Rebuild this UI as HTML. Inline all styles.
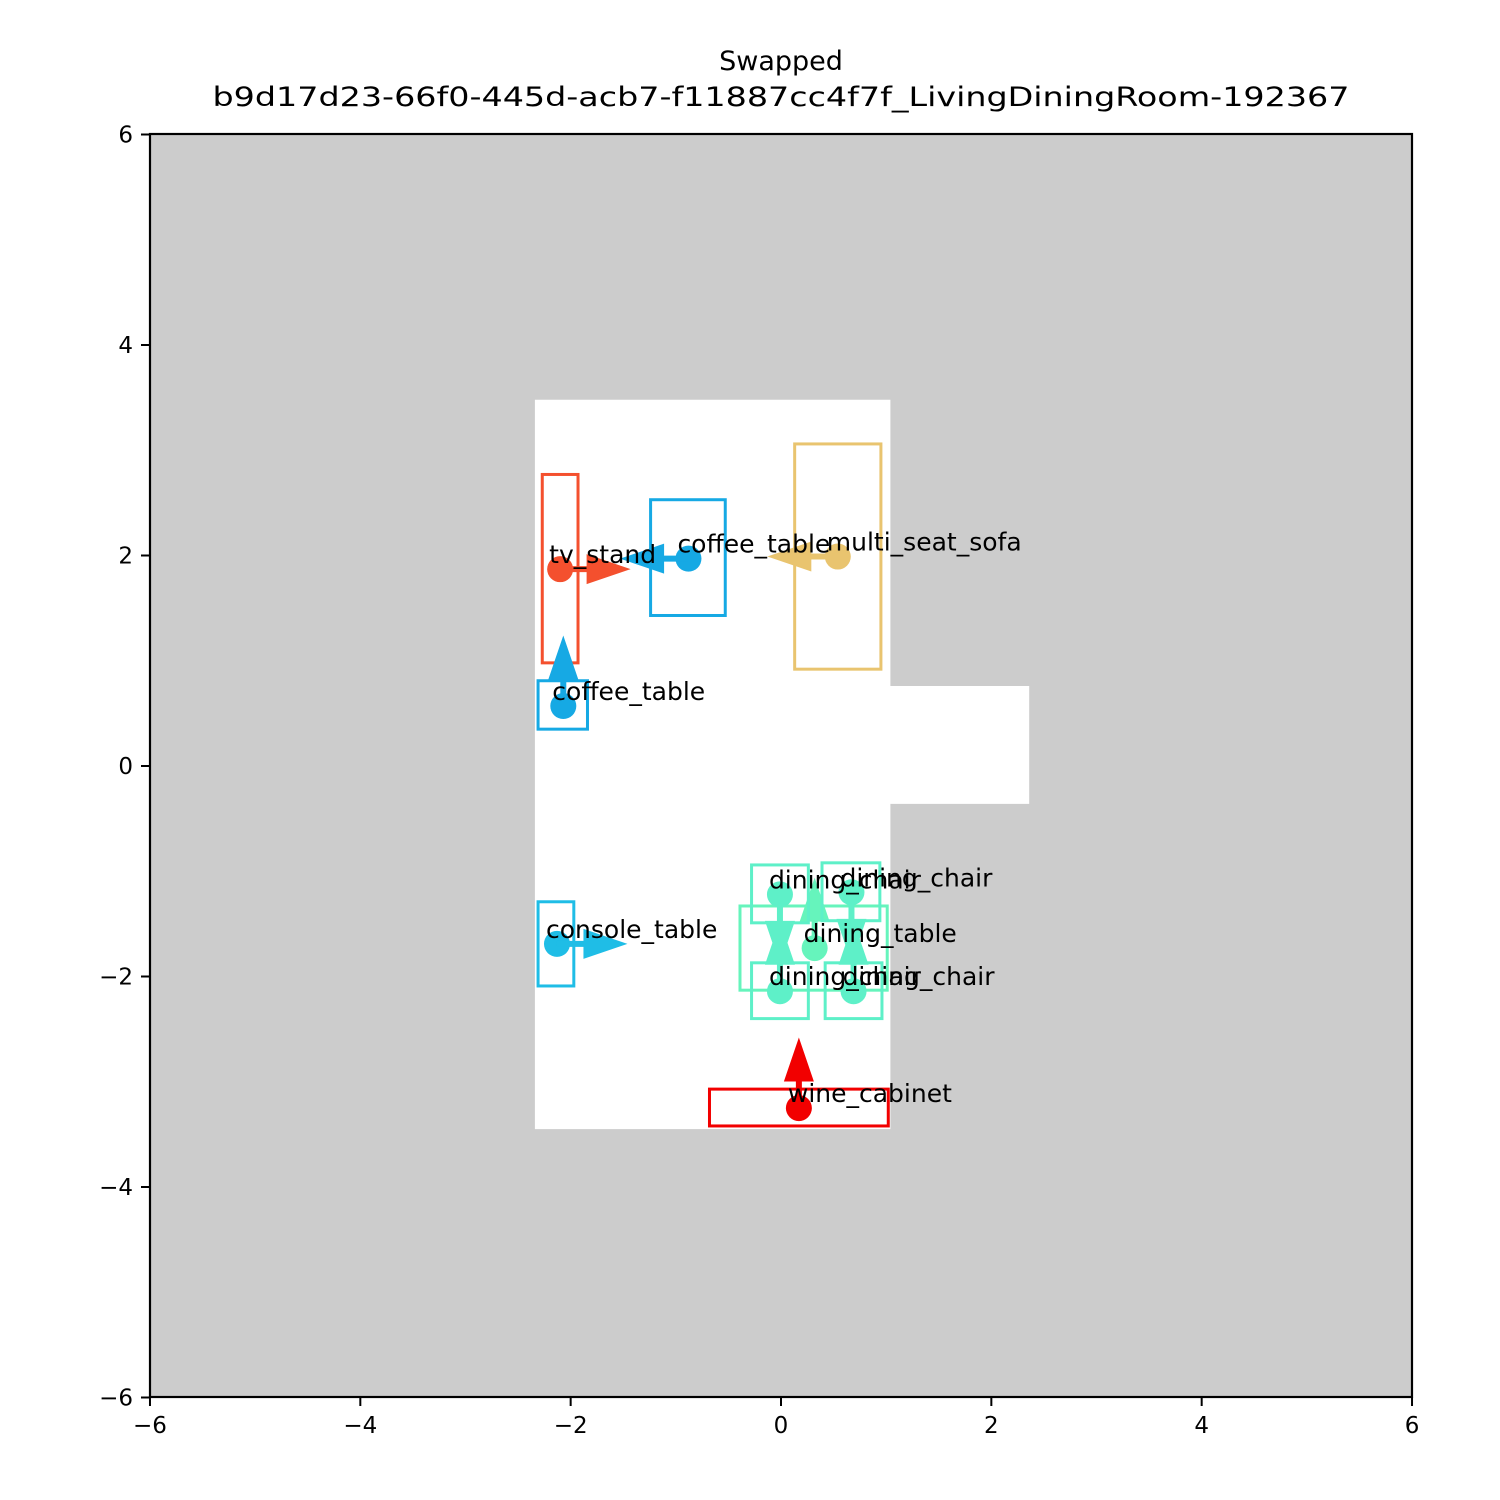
<!DOCTYPE html>
<html><head><meta charset="utf-8"><style>
html,body{margin:0;padding:0;background:#fff;}
svg{display:block;font-family:"DejaVu Sans","Liberation Sans",sans-serif;}
</style></head><body>
<svg id="chart" width="1500" height="1500" viewBox="0 0 1500 1500">
<text x="781" y="70" text-anchor="middle" font-size="27">Swapped</text>
<text x="781" y="106" text-anchor="middle" font-size="27" textLength="1137" lengthAdjust="spacingAndGlyphs">b9d17d23-66f0-445d-acb7-f11887cc4f7f_LivingDiningRoom-192367</text>
<rect x="150" y="134" width="1262" height="1263" fill="#cccccc"/>
<g id="marks"></g>
<g id="labels"></g>
<rect x="150" y="134" width="1262" height="1263" fill="none" stroke="#000" stroke-width="2.2"/>
<g id="axes"></g>
</svg>
<script>
const NS="http://www.w3.org/2000/svg";
const xTicks=[-6,-4,-2,0,2,4,6];
const yTicks=[-6,-4,-2,0,2,4,6];
const roomX=[-2.34,1.04,1.04,2.36,2.36,1.04,1.04,-2.34];
const roomY=[3.48,3.48,0.76,0.76,-0.36,-0.36,-3.45,-3.45];
const objNames=["tv_stand","coffee_table","multi_seat_sofa","coffee_table","console_table","dining_table","dining_chair","dining_chair","dining_chair","dining_chair","wine_cabinet"];
const objColors=["#f4502e","#16a9e4","#e9c46f","#16a9e4","#1fbde6","#66f4bc","#5ef0c8","#5ef0c8","#5ef0c8","#5ef0c8","#f20000"];
const boxX0=[-2.27,-1.24,0.13,-2.31,-2.31,-0.39,-0.28,0.39,-0.28,0.42,-0.68];
const boxX1=[-1.93,-0.53,0.95,-1.84,-1.97,1.01,0.26,0.94,0.26,0.96,1.02];
const boxY0=[0.98,1.43,0.92,0.35,-2.09,-2.13,-1.49,-1.47,-2.40,-2.40,-3.42];
const boxY1=[2.77,2.53,3.06,0.81,-1.29,-1.33,-0.94,-0.92,-1.87,-1.87,-3.07];
const cX=[-2.10,-0.88,0.54,-2.07,-2.13,0.32,-0.01,0.67,-0.01,0.69,0.17];
const cY=[1.87,1.97,1.99,0.57,-1.69,-1.73,-1.22,-1.20,-2.14,-2.14,-3.25];
const dX=[0.67,-0.65,-0.67,0,0.67,0,0,0,0,0,0];
const dY=[0,0,0,0.67,0,0.67,-0.67,-0.67,0.67,0.67,0.67];
const X=v=>781+v*105.17, Y=v=>766-v*105.25;
const marks=document.getElementById('marks'), axes=document.getElementById('axes'), labels=document.getElementById('labels');
function mk(t,a,p){const e=document.createElementNS(NS,t);for(const k in a)e.setAttribute(k,a[k]);(p||marks).appendChild(e);return e;}
let pts=roomX.map((x,i)=>X(x)+","+Y(roomY[i])).join(" ");
const room=mk('polygon',{points:pts,fill:'#fff'});


objNames.forEach((n,i)=>{
  const g=mk('g',{});
  
  
  const x0=X(boxX0[i]),x1=X(boxX1[i]),y0=Y(boxY0[i]),y1=Y(boxY1[i]);
  mk('rect',{x:Math.min(x0,x1),y:Math.min(y0,y1),width:Math.abs(x1-x0),height:Math.abs(y1-y0),fill:'none',stroke:objColors[i],'stroke-width':3},g);
  mk('circle',{cx:X(cX[i]),cy:Y(cY[i]),r:13,fill:objColors[i]},g);
  const sx=X(cX[i]),sy=Y(cY[i]),ex=X(cX[i]+dX[i]),ey=Y(cY[i]+dY[i]);
  const L=Math.hypot(ex-sx,ey-sy),ux=(ex-sx)/L,uy=(ey-sy)/L,px=-uy,py=ux;
  const hl=44,hw=15,sw=3;
  const bx=ex-ux*hl,by=ey-uy*hl;
  const P=[[sx+px*sw,sy+py*sw],[bx+px*sw,by+py*sw],[bx+px*hw,by+py*hw],[ex,ey],[bx-px*hw,by-py*hw],[bx-px*sw,by-py*sw],[sx-px*sw,sy-py*sw]];
  mk('polygon',{points:P.map(p=>p.join(",")).join(" "),fill:objColors[i]},g);
  const t=mk('text',{x:X(cX[i])-11,y:Y(cY[i])-6,'font-size':25},labels);
  
  
  t.textContent=n;
});
xTicks.forEach(v=>{
  const l=mk('line',{x1:X(v),x2:X(v),y1:1397,y2:1406,stroke:'#000','stroke-width':2},axes);
  
  
  const t=mk('text',{x:X(v),y:1433,'text-anchor':'middle','font-size':23},axes);
  
  
  t.textContent=(v<0?'\u2212':'')+Math.abs(v);
});
yTicks.forEach(v=>{
  const l=mk('line',{x1:141,x2:150,y1:Y(v),y2:Y(v),stroke:'#000','stroke-width':2},axes);
  
  
  const t=mk('text',{x:133,y:Y(v)+8,'text-anchor':'end','font-size':23},axes);
  
  
  t.textContent=(v<0?'\u2212':'')+Math.abs(v);
});
</script>
</body></html>
